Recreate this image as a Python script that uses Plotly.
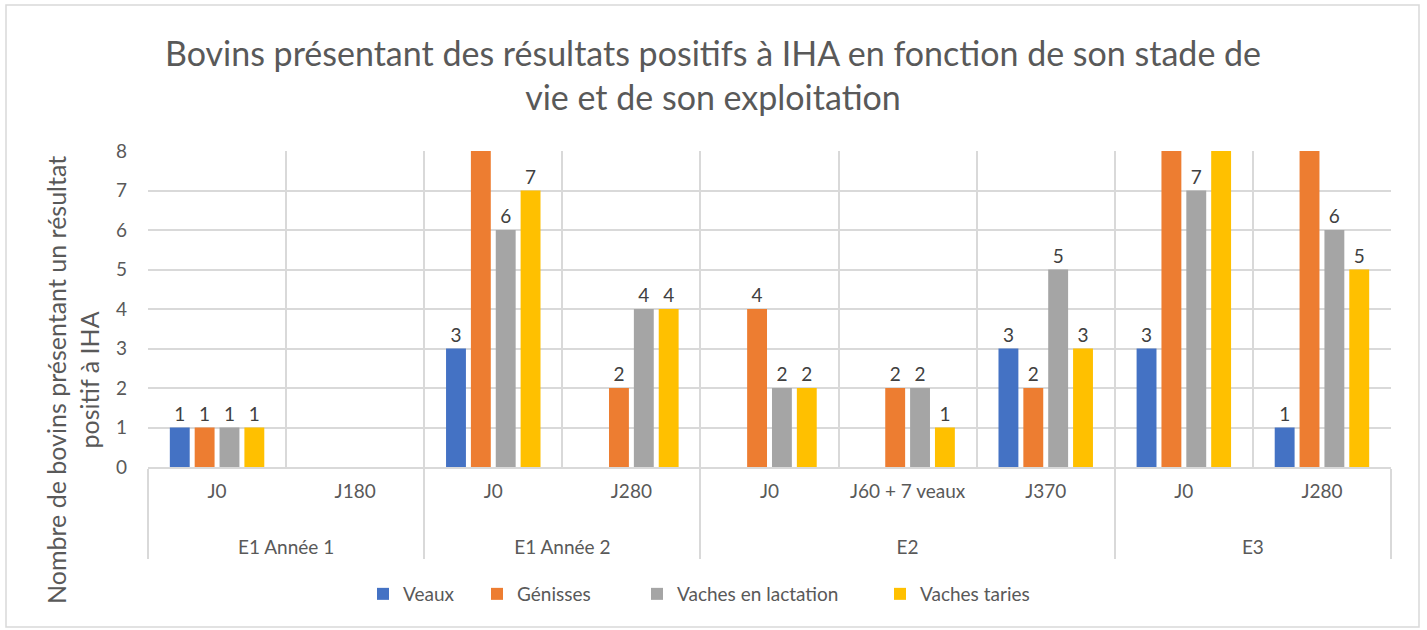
import plotly.graph_objects as go

groups = ["E1 Année 1", "E1 Année 1", "E1 Année 2", "E1 Année 2", "E2", "E2", "E2", "E3", "E3"]
stages = ["J0", "J180", "J0", "J280", "J0", "J60 + 7 veaux", "J370", "J0", "J280"]

series_names = ["Veaux", "Génisses", "Vaches en lactation", "Vaches taries"]
veaux = [1, None, 3, None, None, None, 3, 3, 1]
genisses = [1, None, 10, 2, 4, 2, 2, 12, 11]  # values above 8 are clipped in the original
lactation = [1, None, 6, 4, 2, 2, 5, 7, 6]
taries = [1, None, 7, 4, 2, 1, 3, 9, 5]
colors = ["#4472C4", "#ED7D31", "#A5A5A5", "#FFC000"]

y_max = 8
FONT = "Lato"
TXT = "#595959"

W, H = 1427, 630
PL, PR, PT, PB = 148, 1391, 151, 467  # plot area in screen coords
L, T = PL, PT
R = W - PR
B = H - PB
pw = PR - PL
ph = PB - PT

def px(x):
    return (x - PL) / pw

def py(y):
    return (PB - y) / ph

def small(s):
    return "<span style='font-size:19px'>" + s + "</span>"

group_labels = ["<br>" + small(g) for g in groups]
stage_labels = [small(s) for s in stages]
legend_ids = ["legend", "legend2", "legend3", "legend4"]
legend_x = [378, 500, 647, 895]
legend_adj = [-15, -23, -10, -15]

fig = go.Figure()
for name, vals, col, lid in zip(series_names, [veaux, genisses, lactation, taries], colors, legend_ids):
    labels = ["" if (v is None or v > y_max) else str(v) for v in vals]
    fig.add_trace(go.Bar(
        x=[group_labels, stage_labels], y=vals, name=name, marker_color=col,
        marker_line_width=0, legend=lid,
        text=labels, textposition="outside", cliponaxis=True,
        textfont=dict(family=FONT, size=19, color="#404040"),
    ))

legend_common = dict(orientation="h", yanchor="middle", y=py(594), xanchor="left",
                     font=dict(family=FONT, size=19, color=TXT), bgcolor="rgba(0,0,0,0)")

fig.update_layout(
    width=W, height=H,
    margin=dict(l=L, r=R, t=T, b=B, autoexpand=False),
    paper_bgcolor="white", plot_bgcolor="white",
    barmode="group", bargap=0.28, bargroupgap=0.2,
    font=dict(family=FONT, color=TXT, size=19),
    title=dict(
        text="Bovins présentant des résultats positifs à IHA en fonction de son stade de<br>vie et de son exploitation",
        x=713 / W, xref="container", xanchor="center",
        y=1 - 66 / H, yref="container", yanchor="middle",
        font=dict(family=FONT, size=34, color=TXT),
    ),
    showlegend=True,
    legend=dict(x=px(legend_x[0] + legend_adj[0]), **legend_common),
    legend2=dict(x=px(legend_x[1] + legend_adj[1]), **legend_common),
    legend3=dict(x=px(legend_x[2] + legend_adj[2]), **legend_common),
    legend4=dict(x=px(legend_x[3] + legend_adj[3]), **legend_common),
    xaxis=dict(
        type="multicategory", automargin=False,
        showgrid=True, gridcolor="#D9D9D9", gridwidth=1.5,
        showdividers=True, dividercolor="#D9D9D9", dividerwidth=1.5,
        showline=True, linecolor="#D9D9D9", linewidth=1.5,
        tickfont=dict(family=FONT, size=24, color=TXT),
        ticks="",
    ),
    yaxis=dict(
        range=[0, y_max], dtick=1, showgrid=True, gridcolor="#D9D9D9", gridwidth=1.5,
        zeroline=False, showline=False, ticks="", automargin=False,
        ticklabelstandoff=20,
        tickfont=dict(family=FONT, size=19, color=TXT),
    ),
    annotations=[dict(
        text="Nombre de bovins présentant un résultat<br>positif à IHA",
        xref="paper", yref="paper", x=px(72), y=py(380),
        xanchor="center", yanchor="middle", textangle=-90, showarrow=False,
        font=dict(family=FONT, size=25, color=TXT),
    )],
    shapes=[dict(
        type="rect", xref="paper", yref="paper",
        x0=px(6), x1=px(1419), y0=py(627), y1=py(5),
        line=dict(color="#D9D9D9", width=1.5), fillcolor="rgba(0,0,0,0)", layer="below",
    )],
)

fig.write_html("out.html", config={"displayModeBar": False},
               post_script="document.body.style.margin='0px';")
